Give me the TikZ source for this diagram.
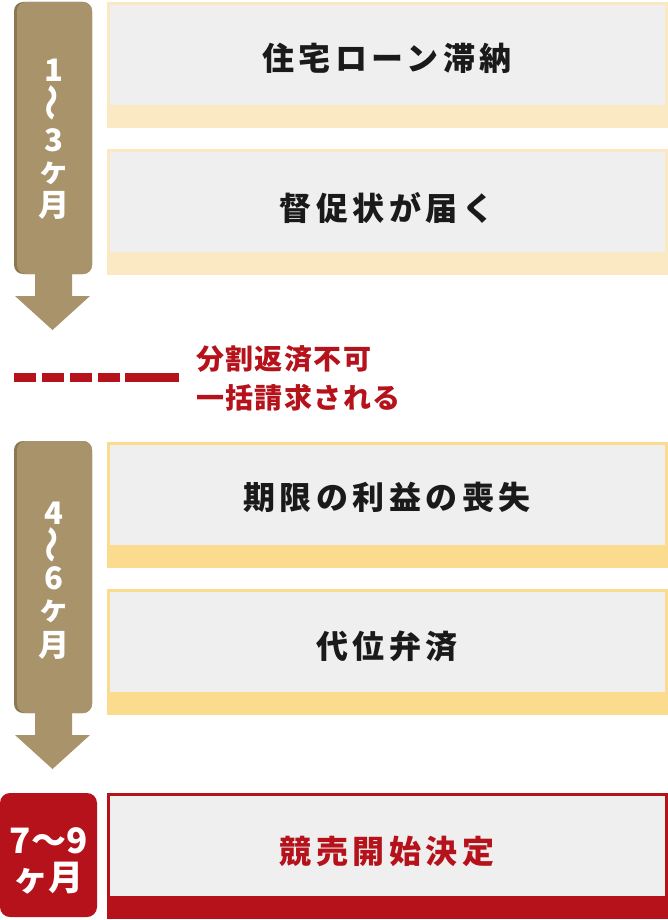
\documentclass[tikz,border=0pt]{standalone}
\usepackage{fontspec}
\newfontfamily\jp{Noto Sans CJK JP}
\usetikzlibrary{calc}
\definecolor{gold}{HTML}{A8936A}
\definecolor{golddk}{HTML}{8A7850}
\definecolor{creamA}{HTML}{FAE9C3}
\definecolor{creamB}{HTML}{FBDB8D}
\definecolor{boxgray}{HTML}{EFEFEF}
\definecolor{redc}{HTML}{B6121B}
\definecolor{ink}{HTML}{1A1A1A}
\newcommand\vwave{\rotatebox{90}{\scalebox{1.2}[1.0]{～}}}
\tikzset{
  plain/.style={inner sep=0pt, outer sep=0pt, draw=none, anchor=north west},
  frame/.style={plain, fill=#1, minimum width=561pt, minimum height=126pt},
  graybox/.style={plain, fill=boxgray, minimum width=555pt, minimum height=100pt},
  boxtxt/.style={inner sep=0pt, text=ink, font={\jp\bfseries\fontsize{32}{36}\selectfont\addfontfeatures{LetterSpace=14}}},
  redtxt/.style={inner sep=0pt, anchor=west, text=redc, font={\jp\bfseries\fontsize{28}{32}\selectfont\addfontfeatures{LetterSpace=5}}},
  pillshade/.style={plain, fill=golddk, rounded corners=9pt, minimum width=78pt, minimum height=272pt},
  pill/.style={plain, fill=gold, rounded corners=9pt, minimum width=75pt, minimum height=272pt},
  pilltxt/.style={inner sep=0pt, text=white, font={\jp\bfseries\fontsize{31}{33}\selectfont}},
  redpilltxt/.style={inner sep=0pt, text=white, font={\jp\bfseries\fontsize{35}{37}\selectfont}},
  arrowfill/.style={fill=gold, draw=none}
}
\begin{document}
\begin{tikzpicture}[x=1pt,y=-1pt]
\useasboundingbox (0,0) rectangle (668,920);
\fill[white] (0,0) rectangle (668,920);

% ---------- group 1 ----------
\node[pillshade] (p1s) at (14,2) {};
\node[pill] (p1) at (17,2) {};
\node[pilltxt] (p1a) at (54,70) {1};
\node[pilltxt] (p1b) at (55,103) {\vwave};
\node[pilltxt] (p1c) at (54,140.5) {3};
\node[pilltxt] (p1d) at (54,173) {ヶ};
\node[pilltxt] (p1e) at (54,205) {月};
\fill[arrowfill] (35,272) -- (72,272) -- (72,296) -- (90,296) -- (52.5,330) -- (15,296) -- (35,296) -- cycle;

\node[frame=creamA] (b1) at (107,2) {};
\node[graybox] (b1g) at (110,5) {};
\node[boxtxt] (t1) at (387,58) {住宅ローン滞納};

\node[frame=creamA] (b2) at (107,149) {};
\node[graybox] (b2g) at (110,152) {};
\node[boxtxt] (t2) at (387,208) {督促状が届く};

% ---------- dashed divider ----------
\coordinate (d0) at (14,377.5);
\coordinate (d1) at (179,377.5);
\draw[redc, line width=8.5pt, dash pattern=on 22pt off 6pt on 22pt off 6pt on 22pt off 6pt on 22pt off 5pt on 60pt off 0pt] (d0) -- (d1);
\node[redtxt] (r1) at (196,359.5) {分割返済不可};
\node[redtxt] (r2) at (196,397.5) {一括請求される};

% ---------- group 2 ----------
\node[pillshade] (p2s) at (14,441) {};
\node[pill] (p2) at (17,441) {};
\node[pilltxt] (p2a) at (54,513) {4};
\node[pilltxt] (p2b) at (55,545) {\vwave};
\node[pilltxt] (p2c) at (54,578) {6};
\node[pilltxt] (p2d) at (54,611) {ヶ};
\node[pilltxt] (p2e) at (54,645) {月};
\fill[arrowfill] (35,711) -- (72,711) -- (72,735) -- (90,735) -- (52.5,769) -- (15,735) -- (35,735) -- cycle;

\node[frame=creamB] (b3) at (107,442) {};
\node[graybox] (b3g) at (110,445) {};
\node[boxtxt] (t3) at (387,497) {期限の利益の喪失};

\node[frame=creamB] (b4) at (107,589) {};
\node[graybox] (b4g) at (110,592) {};
\node[boxtxt] (t4) at (387,646) {代位弁済};

% ---------- group 3 ----------
\node[plain, fill=redc, rounded corners=10pt, minimum width=97pt, minimum height=124pt] (p3) at (0,793) {};
\node[redpilltxt] (p3a) at (48.5,841) {7～9};
\node[redpilltxt] (p3b) at (48.5,878) {ヶ月};

\node[frame=redc] (b5) at (107,793) {};
\node[graybox] (b5g) at (110,796) {};
\node[boxtxt, text=redc] (t5) at (387,851) {競売開始決定};
\end{tikzpicture}
\end{document}
